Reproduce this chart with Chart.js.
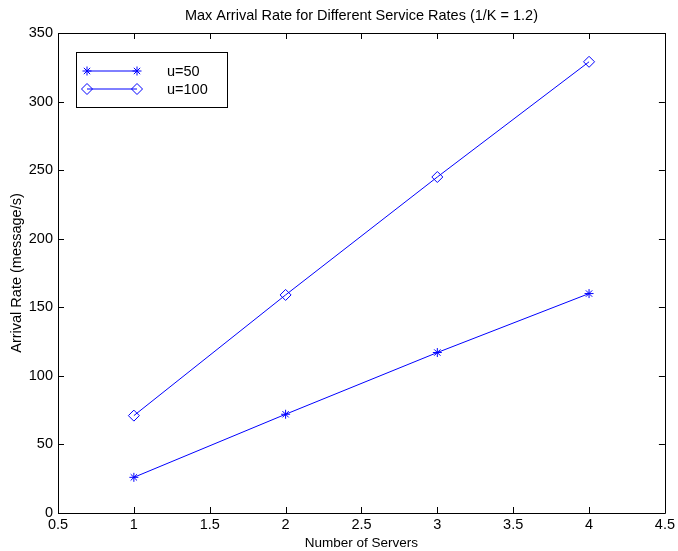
<!DOCTYPE html>
<html>
<head>
<meta charset="utf-8">
<script src="https://cdn.jsdelivr.net/npm/chart.js@4"></script>
<style>
html,body{margin:0;padding:0;background:#fff;}
#wrap{width:678px;height:551px;}
</style>
</head>
<body>
<div id="wrap"><canvas id="c" width="678" height="551"></canvas></div>
<script>
const servers = [1, 2, 3, 4];
const rateU50 = [26, 72, 117, 160];
const rateU100 = [71, 159, 245, 329];
const seriesLabels = ['u=50', 'u=100'];
const chartTitle = 'Max Arrival Rate for Different Service Rates (1/K = 1.2)';
const xTitle = 'Number of Servers';
const yTitle = 'Arrival Rate (message/s)';

const FONT = '"Liberation Sans", Arial, Helvetica, sans-serif';
const BLUE = '#0000ff';

function pts(xs, ys){ return xs.map((x,i)=>({x:x, y:ys[i]})); }

const framePlugin = {
  id: 'frame',
  afterDraw(chart){
    const ctx = chart.ctx, a = chart.chartArea;
    const xs = chart.scales.x, ys = chart.scales.y;
    ctx.save();
    ctx.strokeStyle = '#000';
    ctx.lineWidth = 1;
    ctx.beginPath();
    ctx.rect(Math.round(a.left)+0.5, Math.round(a.top)+0.5, Math.round(a.right-a.left), Math.round(a.bottom-a.top));
    ctx.stroke();
    const L = 6;
    ctx.beginPath();
    xs.ticks.forEach(t=>{
      const px = Math.round(xs.getPixelForValue(t.value))+0.5;
      ctx.moveTo(px, a.bottom); ctx.lineTo(px, a.bottom-L);
      ctx.moveTo(px, a.top); ctx.lineTo(px, a.top+L);
    });
    ys.ticks.forEach(t=>{
      const py = Math.round(ys.getPixelForValue(t.value))+0.5;
      ctx.moveTo(a.left, py); ctx.lineTo(a.left+L, py);
      ctx.moveTo(a.right, py); ctx.lineTo(a.right-L, py);
    });
    ctx.stroke();

    // legend box
    const bx = 76.5, by = 52.5, bw = 151, bh = 55;
    ctx.fillStyle = '#fff';
    ctx.fillRect(bx, by, bw, bh);
    ctx.strokeStyle = '#000';
    ctx.strokeRect(bx, by, bw, bh);
    const rows = [71, 89];
    chart.data.datasets.forEach((ds, i)=>{
      const y = rows[i];
      ctx.strokeStyle = ds.borderColor;
      ctx.lineWidth = 1;
      ctx.beginPath(); ctx.moveTo(87, y); ctx.lineTo(137, y); ctx.stroke();
      const opts = {pointStyle: ds.pointStyle, radius: ds.pointRadius, rotation: 0, borderWidth: 1};
      ctx.fillStyle = 'rgba(0,0,0,0)';
      ctx.strokeStyle = ds.borderColor;
      Chart.helpers.drawPoint(ctx, opts, 87, y);
      Chart.helpers.drawPoint(ctx, opts, 137, y);
      ctx.fillStyle = '#000';
      ctx.font = '14.5px ' + FONT;
      ctx.textAlign = 'left';
      ctx.textBaseline = 'middle';
      ctx.fillText(ds.label, 167, y+1);
    });
    ctx.restore();
  }
};

new Chart(document.getElementById('c'), {
  type: 'line',
  data: {
    datasets: [
      {label: seriesLabels[0], data: pts(servers, rateU50), borderColor: BLUE, backgroundColor: 'rgba(0,0,0,0)',
       borderWidth: 1, pointStyle: 'star', pointRadius: 4.5, pointBorderWidth: 1, pointBorderColor: BLUE, tension: 0},
      {label: seriesLabels[1], data: pts(servers, rateU100), borderColor: BLUE, backgroundColor: 'rgba(0,0,0,0)',
       borderWidth: 1, pointStyle: 'rectRot', pointRadius: 5.5, pointBorderWidth: 1, pointBorderColor: BLUE, tension: 0}
    ]
  },
  options: {
    responsive: false,
    animation: false,
    devicePixelRatio: 1,
    layout: {padding: {left: 0, right: 13, top: 0, bottom: 0}},
    plugins: {
      legend: {display: false},
      tooltip: {enabled: false},
      title: {display: true, fullSize: false, text: chartTitle, color: '#000',
              font: {family: FONT, size: 14.5, weight: 'normal'},
              padding: {top: 7.3, bottom: 8.3}}
    },
    scales: {
      x: {
        type: 'linear', min: 0.5, max: 4.5,
        ticks: {stepSize: 0.5, color: '#000', font: {family: FONT, size: 14.5}, padding: 3, maxRotation: 0, autoSkip: false,
                callback: v => String(v)},
        grid: {display: false, drawTicks: false},
        border: {display: false},
        title: {display: true, text: xTitle, color: '#000', font: {family: FONT, size: 13.5}, padding: {top: 0, bottom: 0}},
        afterFit(s){ s.height = 38; }
      },
      y: {
        min: 0, max: 350,
        ticks: {stepSize: 50, color: '#000', font: {family: FONT, size: 14.5}, padding: 5},
        grid: {display: false, drawTicks: false},
        border: {display: false},
        title: {display: true, text: yTitle, color: '#000', font: {family: FONT, size: 14.5}, padding: {top: 8.3, bottom: 0}},
        afterFit(s){ s.width = 58; }
      }
    }
  },
  plugins: [framePlugin]
});
</script>
</body>
</html>
